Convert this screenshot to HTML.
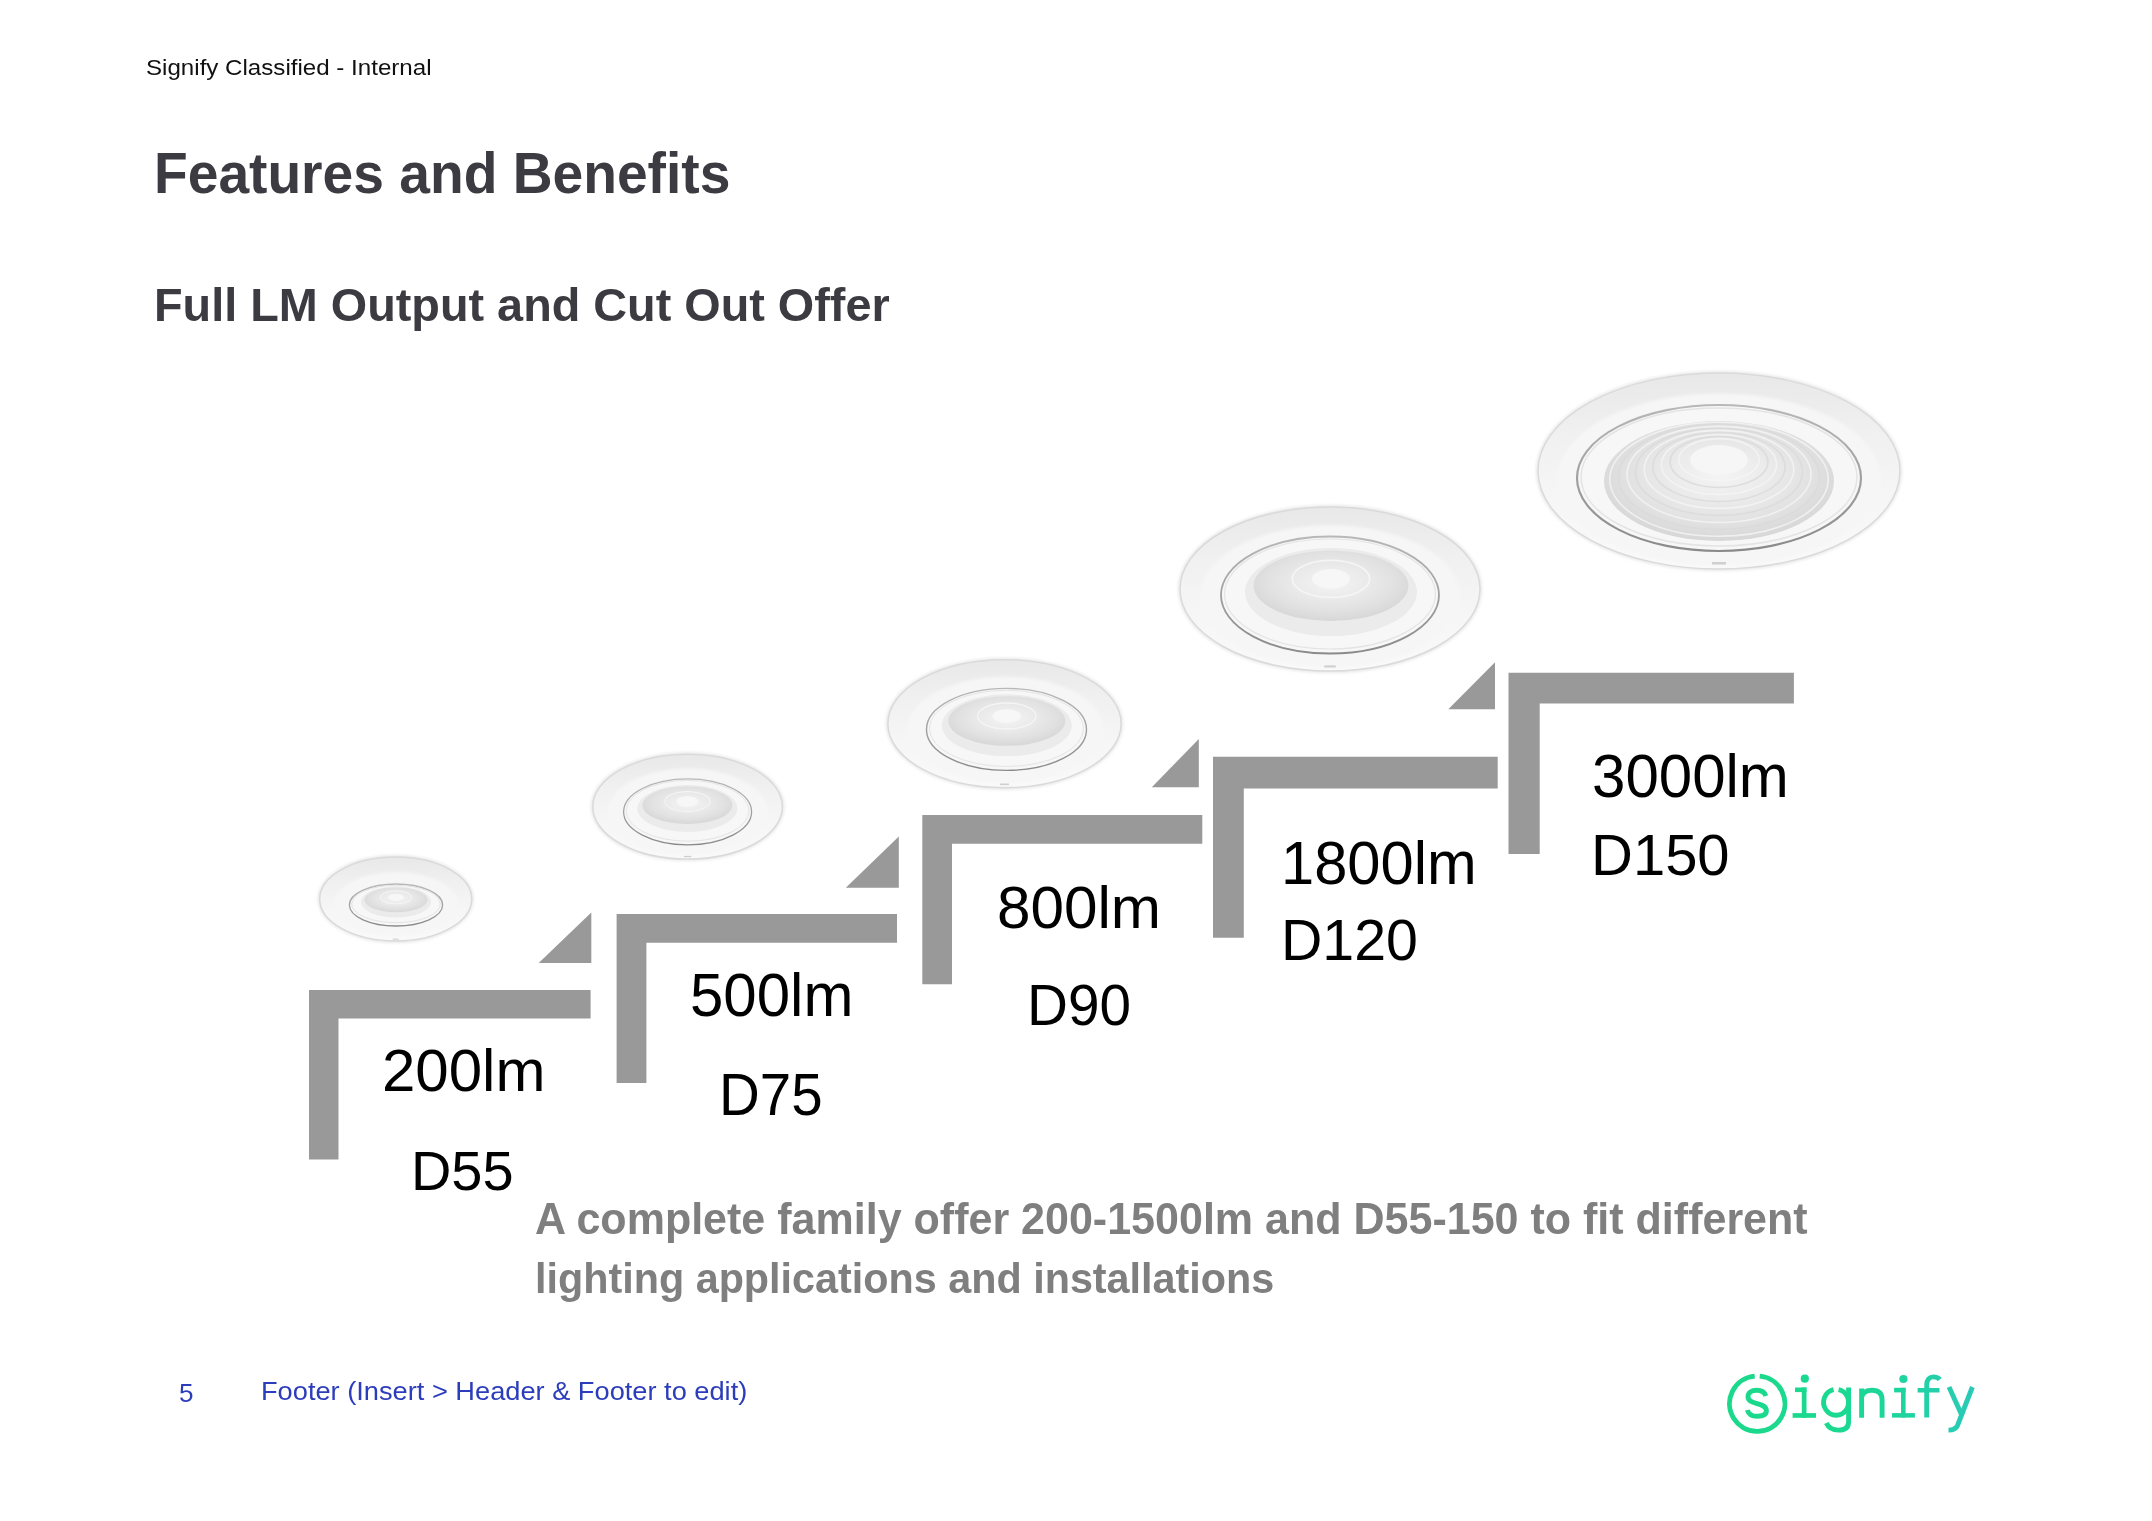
<!DOCTYPE html>
<html>
<head>
<meta charset="utf-8">
<style>
html,body{margin:0;padding:0;background:#fff;}
body{width:2152px;height:1521px;position:relative;overflow:hidden;font-family:"Liberation Sans",sans-serif;}
.t{position:absolute;white-space:nowrap;line-height:1;transform-origin:0 0;}
svg{position:absolute;left:0;top:0;}
</style>
</head>
<body>
<svg width="2152" height="1521" viewBox="0 0 2152 1521">
  <defs>
    <linearGradient id="fl" x1="0" y1="0" x2="0" y2="1">
      <stop offset="0" stop-color="#e8e8e8"/>
      <stop offset="0.3" stop-color="#f0f0f0"/>
      <stop offset="0.65" stop-color="#f6f6f6"/>
      <stop offset="1" stop-color="#f9f9f9"/>
    </linearGradient>
    <radialGradient id="ln" cx="50%" cy="45%" r="55%">
      <stop offset="0" stop-color="#f4f4f4"/>
      <stop offset="0.35" stop-color="#ececec"/>
      <stop offset="0.75" stop-color="#e1e1e1"/>
      <stop offset="1" stop-color="#d7d7d7"/>
    </radialGradient>
    <linearGradient id="rg" x1="0" y1="0" x2="0" y2="1">
      <stop offset="0" stop-color="#b8b8b8"/>
      <stop offset="1" stop-color="#8a8a8a"/>
    </linearGradient>
    <linearGradient id="lg" x1="0" y1="0" x2="1" y2="0">
      <stop offset="0" stop-color="#1bd98a"/>
      <stop offset="0.6" stop-color="#1dd894"/>
      <stop offset="1" stop-color="#2ccab9"/>
    </linearGradient>
    <filter id="bl" x="-10%" y="-10%" width="120%" height="120%"><feGaussianBlur stdDeviation="1.6"/></filter>
    <filter id="bl2" x="-10%" y="-10%" width="120%" height="120%"><feGaussianBlur stdDeviation="0.7"/></filter>
  </defs>
  <g>
<ellipse cx="395.7" cy="899" rx="78" ry="44" fill="#e8e8e8" filter="url(#bl)"/>
<ellipse cx="395.7" cy="899" rx="76" ry="42" fill="url(#fl)" stroke="#dadada" stroke-width="1.5"/>
<ellipse cx="395.9" cy="904.1" rx="61.8" ry="32.0" fill="#f6f6f6" filter="url(#bl)"/>
<ellipse cx="396" cy="905" rx="46.6" ry="21" fill="#f7f7f7" stroke="url(#rg)" stroke-width="1.30"/>
<ellipse cx="396" cy="904" rx="44.3" ry="18.7" fill="none" stroke="#e4e4e4" stroke-width="1.00"/>
<ellipse cx="396" cy="902" rx="35" ry="15.5" fill="#ebebeb" filter="url(#bl2)"/>
<ellipse cx="396" cy="899.8" rx="31.5" ry="12.4" fill="url(#ln)" filter="url(#bl2)"/>
<ellipse cx="396" cy="897.4" rx="15.8" ry="6.5" fill="none" stroke="#f6f6f6" stroke-width="1.00" opacity="0.9"/>
<ellipse cx="396" cy="897.4" rx="7.7" ry="3.4" fill="#f7f7f7" filter="url(#bl2)"/>
<rect x="392.7" y="938.6" width="5.9" height="1.1" fill="#cfcfcf"/>
</g>
<g>
<ellipse cx="687.6" cy="806.7" rx="96.8" ry="54.4" fill="#e8e8e8" filter="url(#bl)"/>
<ellipse cx="687.6" cy="806.7" rx="94.8" ry="52.4" fill="url(#fl)" stroke="#dadada" stroke-width="1.5"/>
<ellipse cx="687.6" cy="811.9" rx="79.9" ry="43.2" fill="#f6f6f6" filter="url(#bl)"/>
<ellipse cx="687.6" cy="811.8" rx="64" ry="33" fill="#f7f7f7" stroke="url(#rg)" stroke-width="1.30"/>
<ellipse cx="687.6" cy="810.8" rx="61.4" ry="30.4" fill="none" stroke="#e4e4e4" stroke-width="1.00"/>
<ellipse cx="687.4" cy="808.5" rx="50" ry="23.5" fill="#ebebeb" filter="url(#bl2)"/>
<ellipse cx="687.4" cy="805.2" rx="45.0" ry="18.8" fill="url(#ln)" filter="url(#bl2)"/>
<ellipse cx="687.4" cy="801.5" rx="22.5" ry="9.9" fill="none" stroke="#f6f6f6" stroke-width="1.05" opacity="0.9"/>
<ellipse cx="687.4" cy="801.5" rx="11.0" ry="5.2" fill="#f7f7f7" filter="url(#bl2)"/>
<rect x="683.9" y="855.9" width="7.4" height="1.3" fill="#cfcfcf"/>
</g>
<g>
<ellipse cx="1004.5" cy="723.7" rx="118.6" ry="66" fill="#e8e8e8" filter="url(#bl)"/>
<ellipse cx="1004.5" cy="723.7" rx="116.6" ry="64" fill="url(#fl)" stroke="#dadada" stroke-width="1.5"/>
<ellipse cx="1005.5" cy="729.8" rx="98.8" ry="53.0" fill="#f6f6f6" filter="url(#bl)"/>
<ellipse cx="1006.5" cy="729.4" rx="80" ry="41" fill="#f7f7f7" stroke="url(#rg)" stroke-width="1.42"/>
<ellipse cx="1006.5" cy="728.4" rx="77.1" ry="38.1" fill="none" stroke="#e4e4e4" stroke-width="1.00"/>
<ellipse cx="1006.8" cy="725.3" rx="65" ry="31" fill="#ebebeb" filter="url(#bl2)"/>
<ellipse cx="1006.8" cy="721.0" rx="58.5" ry="24.8" fill="url(#ln)" filter="url(#bl2)"/>
<ellipse cx="1006.8" cy="716.0" rx="29.2" ry="13.0" fill="none" stroke="#f6f6f6" stroke-width="1.29" opacity="0.9"/>
<ellipse cx="1006.8" cy="716.0" rx="14.3" ry="6.8" fill="#f7f7f7" filter="url(#bl2)"/>
<rect x="1000.0" y="783.5" width="9.0" height="1.6" fill="#cfcfcf"/>
</g>
<g>
<ellipse cx="1330" cy="589" rx="152" ry="84" fill="#e8e8e8" filter="url(#bl)"/>
<ellipse cx="1330" cy="589" rx="150" ry="82" fill="url(#fl)" stroke="#dadada" stroke-width="1.5"/>
<ellipse cx="1330.0" cy="596.1" rx="130.0" ry="70.8" fill="#f6f6f6" filter="url(#bl)"/>
<ellipse cx="1330" cy="595" rx="109" ry="58.5" fill="#f7f7f7" stroke="url(#rg)" stroke-width="1.83"/>
<ellipse cx="1330" cy="594" rx="105.5" ry="55.0" fill="none" stroke="#e4e4e4" stroke-width="1.24"/>
<ellipse cx="1331" cy="592" rx="86" ry="44" fill="#ebebeb" filter="url(#bl2)"/>
<ellipse cx="1331" cy="585.8" rx="77.4" ry="35.2" fill="url(#ln)" filter="url(#bl2)"/>
<ellipse cx="1331" cy="578.8" rx="38.7" ry="18.5" fill="none" stroke="#f6f6f6" stroke-width="1.66" opacity="0.9"/>
<ellipse cx="1331" cy="578.8" rx="18.9" ry="9.7" fill="#f7f7f7" filter="url(#bl2)"/>
<rect x="1324.2" y="665.4" width="11.6" height="2.1" fill="#cfcfcf"/>
</g>
<g>
<ellipse cx="1719" cy="471" rx="183" ry="100" fill="#e8e8e8" filter="url(#bl)"/>
<ellipse cx="1719" cy="471" rx="181" ry="98" fill="url(#fl)" stroke="#dadada" stroke-width="1.5"/>
<ellipse cx="1719.0" cy="479.4" rx="162.0" ry="86.0" fill="#f6f6f6" filter="url(#bl)"/>
<ellipse cx="1719" cy="478" rx="142" ry="73" fill="#f7f7f7" stroke="url(#rg)" stroke-width="2.20"/>
<ellipse cx="1719" cy="477" rx="138.0" ry="69.0" fill="none" stroke="#e4e4e4" stroke-width="1.50"/>
<ellipse cx="1719" cy="481" rx="115" ry="60" fill="url(#ln)" filter="url(#bl2)"/>
<ellipse cx="1719" cy="479.3" rx="109.2" ry="57.0" fill="none" stroke="#f5f5f5" stroke-width="1.6" opacity="0.8"/>
<ellipse cx="1719" cy="476.9" rx="100.6" ry="52.5" fill="none" stroke="#d9d9d9" stroke-width="1.6" opacity="0.8"/>
<ellipse cx="1719" cy="474.4" rx="92.0" ry="48.0" fill="none" stroke="#f5f5f5" stroke-width="1.6" opacity="0.8"/>
<ellipse cx="1719" cy="471.9" rx="83.4" ry="43.5" fill="none" stroke="#d9d9d9" stroke-width="1.6" opacity="0.8"/>
<ellipse cx="1719" cy="469.4" rx="74.7" ry="39.0" fill="none" stroke="#f5f5f5" stroke-width="1.6" opacity="0.8"/>
<ellipse cx="1719" cy="467.0" rx="66.1" ry="34.5" fill="none" stroke="#d9d9d9" stroke-width="1.6" opacity="0.8"/>
<ellipse cx="1719" cy="464.5" rx="57.5" ry="30.0" fill="none" stroke="#f5f5f5" stroke-width="1.6" opacity="0.8"/>
<ellipse cx="1719" cy="462.0" rx="48.9" ry="25.5" fill="none" stroke="#d9d9d9" stroke-width="1.6" opacity="0.8"/>
<ellipse cx="1719" cy="459.6" rx="40.2" ry="21.0" fill="none" stroke="#f5f5f5" stroke-width="1.6" opacity="0.8"/>
<ellipse cx="1719" cy="460.0" rx="28.8" ry="15.0" fill="#f6f6f6" filter="url(#bl2)"/>
<rect x="1712.0" y="562.0" width="14.0" height="2.5" fill="#cfcfcf"/>
</g>
  <g fill="#999999">
    <path d="M309 990 H590.6 V1018.6 H338.5 V1159.5 H309 Z"/>
    <path d="M538.7 963 L591.3 912.4 V963 Z"/>
    <path d="M616.6 913.9 H897 V942.8 H646.4 V1083 H616.6 Z"/>
    <path d="M845.8 887.8 L898.8 836.6 V887.8 Z"/>
    <path d="M922.3 815.1 H1202.3 V843.7 H952 V984.3 H922.3 Z"/>
    <path d="M1151.8 787.3 L1198.8 738.9 V787.3 Z"/>
    <path d="M1213 756.7 H1497.7 V788.4 H1243.8 V937.8 H1213 Z"/>
    <path d="M1448.3 709.3 L1495 662.2 V709.3 Z"/>
    <path d="M1508.5 672.8 H1793.9 V703.6 H1539.7 V854 H1508.5 Z"/>
  </g>
  <g id="logo">
  <defs>
    <linearGradient id="lg2" gradientUnits="userSpaceOnUse" x1="1727" y1="0" x2="1975" y2="0">
      <stop offset="0" stop-color="#1bd98b"/>
      <stop offset="0.45" stop-color="#1ad990"/>
      <stop offset="0.75" stop-color="#1fd3a2"/>
      <stop offset="1" stop-color="#2bc9b9"/>
    </linearGradient>
  </defs>
  <g fill="none" stroke="url(#lg2)" stroke-width="4.9">
    <path d="M1759.7 1376.1 A27.7 27.7 0 1 1 1754.7 1376.1"/>
    <path d="M1765.8 1396 C1764.5 1392 1761 1390.3 1756.8 1390.3 C1751.5 1390.3 1748 1392.8 1748 1396.8 C1748 1401 1752 1402.3 1757 1403.6 C1762.5 1405 1766.4 1406.5 1766.4 1410.8 C1766.4 1414.5 1762.5 1416.3 1757 1416.3 C1752 1416.3 1748.5 1414.3 1747.4 1410"/>
    <path d="M1838.6 1389.7 A12.5 12.9 0 1 1 1833.6 1389.7"/>
    <path d="M1848.6 1387.5 V1422 C1848.6 1428 1844.5 1430.1 1838.5 1430.1 C1832.5 1430.1 1828.5 1428 1826.3 1423"/>
    <path d="M1861.6 1388.5 V1417.8 M1861.6 1397 C1863 1392 1867 1390.3 1872 1390.3 C1878.5 1390.3 1882.1 1393.5 1882.1 1400 V1417.8"/>
    <path d="M1926.7 1417.5 V1385 C1926.7 1379.5 1929.5 1376.9 1933.5 1376.9 C1936.5 1376.9 1938.5 1377.8 1939.8 1379.5"/>
    <path d="M1949 1387 L1961.5 1414.5 M1972.4 1387 L1957.5 1425.5 C1956 1429 1953.5 1430.1 1948.5 1430.1"/>
  </g>
  <g fill="url(#lg2)">
    <circle cx="1804.8" cy="1378.7" r="4.1"/>
    <rect x="1795" y="1387.5" width="11.5" height="4.6"/>
    <rect x="1801.8" y="1387.5" width="4.7" height="30.3"/>
    <rect x="1792.6" y="1413.1" width="23.4" height="4.7"/>
    <circle cx="1903.4" cy="1379" r="4.1"/>
    <rect x="1894.1" y="1387.8" width="11.5" height="4.6"/>
    <rect x="1901" y="1387.8" width="4.6" height="29.7"/>
    <rect x="1892" y="1413.1" width="22.9" height="4.5"/>
    <rect x="1917.6" y="1388" width="21.9" height="4.5"/>
  </g>
</g>

</svg>
<div class="t" style="left:146.27px;top:56.74px;font-size:22.37px;color:#111111;transform:scaleX(1.0787);">Signify Classified - Internal</div>
<div class="t" style="left:154.13px;top:144.54px;font-size:57.56px;font-weight:bold;color:#3b3b41;transform:scaleX(0.9586);">Features and Benefits</div>
<div class="t" style="left:153.95px;top:281.91px;font-size:46.85px;font-weight:bold;color:#3b3b41;transform:scaleX(0.9991);">Full LM Output and Cut Out Offer</div>
<div class="t" style="left:382.29px;top:1041.23px;font-size:59.38px;color:#000000;transform:scaleX(1.0104);">200lm</div>
<div class="t" style="left:411.18px;top:1143.41px;font-size:56.08px;color:#000000;transform:scaleX(0.9967);">D55</div>
<div class="t" style="left:689.50px;top:964.93px;font-size:60.21px;color:#000000;transform:scaleX(0.9964);">500lm</div>
<div class="t" style="left:718.93px;top:1065.19px;font-size:59.19px;color:#000000;transform:scaleX(0.9543);">D75</div>
<div class="t" style="left:996.88px;top:878.40px;font-size:59.67px;color:#000000;transform:scaleX(1.0094);">800lm</div>
<div class="t" style="left:1026.51px;top:976.20px;font-size:58.00px;color:#000000;transform:scaleX(0.9779);">D90</div>
<div class="t" style="left:1280.68px;top:832.72px;font-size:60.23px;color:#000000;transform:scaleX(0.9905);">1800lm</div>
<div class="t" style="left:1280.86px;top:911.34px;font-size:58.03px;color:#000000;transform:scaleX(0.9873);">D120</div>
<div class="t" style="left:1592.13px;top:746.19px;font-size:61.12px;color:#000000;transform:scaleX(0.9821);">3000lm</div>
<div class="t" style="left:1590.80px;top:825.56px;font-size:58.03px;color:#000000;transform:scaleX(0.9995);">D150</div>
<div class="t" style="left:535.40px;top:1197.75px;font-size:43.45px;font-weight:bold;color:#7f7f7f;transform:scaleX(0.9904);">A complete family offer 200-1500lm and D55-150 to fit different</div>
<div class="t" style="left:534.67px;top:1257.24px;font-size:43.22px;font-weight:bold;color:#7f7f7f;transform:scaleX(0.9561);">lighting applications and installations</div>
<div class="t" style="left:178.93px;top:1379.89px;font-size:26.59px;color:#2c3dbb;transform:scaleX(0.9826);">5</div>
<div class="t" style="left:260.71px;top:1379.42px;font-size:25.69px;color:#2c3dbb;transform:scaleX(1.0594);">Footer (Insert &gt; Header &amp; Footer to edit)</div>

</body>
</html>
